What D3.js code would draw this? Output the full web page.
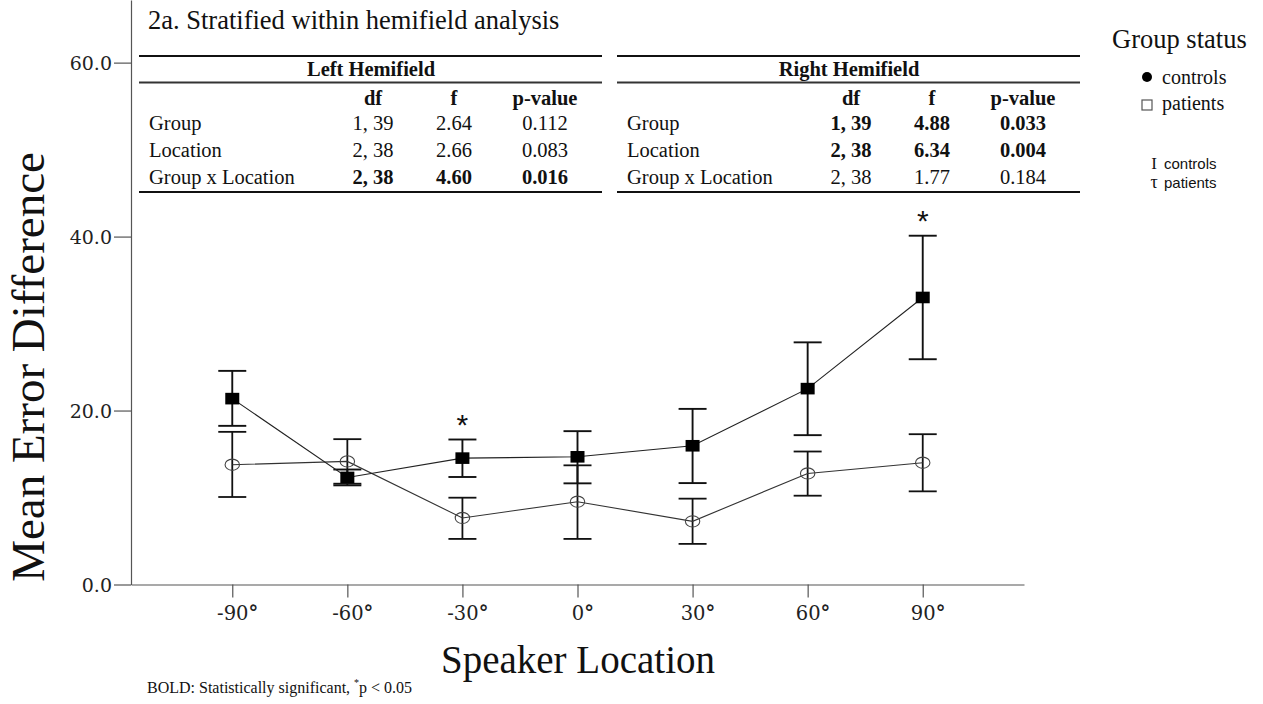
<!DOCTYPE html>
<html>
<head>
<meta charset="utf-8">
<script src="https://cdn.jsdelivr.net/npm/d3@7/dist/d3.min.js"></script>
<style>
  html, body { margin: 0; padding: 0; background: #fff; }
  svg { display: block; }
</style>
</head>
<body>
<script>
// Speaker locations (degrees) on the x axis
const locations = ["-90", "-60", "-30", "0", "30", "60", "90"];

// Mean error difference with 95% CI, controls (filled squares)
const controlsMean  = [21.37, 12.31, 14.53, 14.68, 15.95, 22.52, 33.0];
const controlsLower = [18.24, 11.40, 12.36, 11.63, 11.66, 17.17, 25.9];
const controlsUpper = [24.56, 13.22, 16.67, 17.63, 20.19, 27.84, 40.1];

// Mean error difference with 95% CI, patients (open circles)
const patientsMean  = [13.77, 14.15, 7.65, 9.52, 7.26, 12.77, 14.0];
const patientsLower = [10.06, 11.59, 5.24, 5.24, 4.67, 10.21, 10.71];
const patientsUpper = [17.55, 16.71, 9.98, 13.70, 9.87, 15.29, 17.28];

// Locations with a significant group difference (*p < 0.05)
const significant = [false, false, true, false, false, false, true];

// Y axis ticks
const yTicks = [0, 20, 40, 60];

// ANOVA tables
const tableColumns = ["df", "f", "p-value"];
const tableRows = ["Group", "Location", "Group x Location"];
const leftValues = [["1, 39", "2.64", "0.112"], ["2, 38", "2.66", "0.083"], ["2, 38", "4.60", "0.016"]];
const leftBold = [false, false, true];
const rightValues = [["1, 39", "4.88", "0.033"], ["2, 38", "6.34", "0.004"], ["2, 38", "1.77", "0.184"]];
const rightBold = [true, true, false];

const W = 1263, H = 704;
const serif = "'Liberation Serif', 'Times New Roman', serif";
const sans = "'Liberation Sans', Arial, sans-serif";
const tickFont = "'DejaVu Serif', serif";

const svg = d3.select("body").append("svg")
  .attr("width", W).attr("height", H)
  .style("background", "#fff");

const x = d3.scalePoint().domain(locations).range([131, 1024]).padding(0.88);
const y = d3.scaleLinear().domain([0, 67.2]).range([584.5, 0]);

// ---- axes ----
const yAxis = svg.append("g")
  .attr("transform", "translate(131,0)")
  .call(d3.axisLeft(y).tickValues(yTicks).tickSize(17).tickSizeOuter(0).tickPadding(2)
    .tickFormat(d3.format(".1f")));
yAxis.select(".domain").attr("stroke", "#555").attr("stroke-width", 1.2);
yAxis.selectAll(".tick line").attr("stroke", "#555").attr("stroke-width", 1.2);
yAxis.selectAll(".tick text")
  .attr("font-family", tickFont).attr("font-size", 19).attr("fill", "#222")
  .attr("dy", "0.36em");

const xAxis = svg.append("g")
  .attr("transform", "translate(0,584.5)")
  .call(d3.axisBottom(x).tickSize(13).tickSizeOuter(0).tickPadding(4).tickFormat(d => d));
xAxis.select(".domain").attr("stroke", "#555").attr("stroke-width", 1.2);
xAxis.selectAll(".tick line").attr("stroke", "#555").attr("stroke-width", 1.2);
xAxis.selectAll(".tick text").each(function (d) {
  const t = d3.select(this).text("");
  t.attr("font-family", tickFont).attr("font-size", 19.5).attr("fill", "#222")
    .attr("text-anchor", "start").attr("dy", "0.95em");
  t.append("tspan").text(d);
  t.append("tspan").attr("font-weight", "bold").text("°");
  const dw = t.select("tspan").node().getComputedTextLength();
  t.attr("x", -dw / 2);
});

// ---- axis titles ----
svg.append("text")
  .attr("transform", "translate(44,367) rotate(-90)")
  .attr("text-anchor", "middle")
  .attr("font-family", serif).attr("font-size", 47).attr("fill", "#111")
  .text("Mean Error Difference");

svg.append("text")
  .attr("x", 578).attr("y", 673)
  .attr("text-anchor", "middle")
  .attr("font-family", serif).attr("font-size", 39).attr("fill", "#111")
  .text("Speaker Location");

// footnote
const foot = svg.append("text")
  .attr("x", 147).attr("y", 693)
  .attr("font-family", serif).attr("font-size", 16).attr("fill", "#111");
foot.append("tspan").text("BOLD: Statistically significant, ");
foot.append("tspan").attr("font-size", 10).attr("dy", -7).text("*");
foot.append("tspan").attr("dy", 7).text("p < 0.05");

// title
svg.append("text")
  .attr("x", 148).attr("y", 29)
  .attr("font-family", serif).attr("font-size", 26.5).attr("fill", "#111")
  .text("2a. Stratified within hemifield analysis");

// ---- tables ----
function drawTable(x0, title, values, boldRows) {
  const g = svg.append("g").attr("transform", `translate(${x0},0)`);
  const tw = 463;
  g.append("line").attr("x1", 0).attr("x2", tw).attr("y1", 56).attr("y2", 56)
    .attr("stroke", "#111").attr("stroke-width", 2);
  g.append("line").attr("x1", 0).attr("x2", tw).attr("y1", 82.5).attr("y2", 82.5)
    .attr("stroke", "#333").attr("stroke-width", 1.8);
  g.append("line").attr("x1", 0).attr("x2", tw).attr("y1", 192).attr("y2", 192)
    .attr("stroke", "#111").attr("stroke-width", 2);
  g.append("text").attr("x", 232).attr("y", 76).attr("text-anchor", "middle")
    .attr("font-family", serif).attr("font-size", 20.5).attr("font-weight", "bold")
    .attr("fill", "#111").text(title);
  const colX = [234, 315, 406];
  tableColumns.forEach((c, i) => {
    g.append("text").attr("x", colX[i]).attr("y", 105).attr("text-anchor", "middle")
      .attr("font-family", serif).attr("font-size", 20.5).attr("font-weight", "bold")
      .attr("fill", "#111").text(c);
  });
  const rowY = [130, 157, 184];
  tableRows.forEach((r, j) => {
    g.append("text").attr("x", 10).attr("y", rowY[j])
      .attr("font-family", serif).attr("font-size", 20.5).attr("fill", "#111").text(r);
    values[j].forEach((v, i) => {
      g.append("text").attr("x", colX[i]).attr("y", rowY[j]).attr("text-anchor", "middle")
        .attr("font-family", serif).attr("font-size", 20.5)
        .attr("font-weight", boldRows[j] ? "bold" : "normal")
        .attr("fill", "#111").text(v);
    });
  });
}
drawTable(139, "Left Hemifield", leftValues, leftBold);
drawTable(617, "Right Hemifield", rightValues, rightBold);

// ---- data ----
const capHalf = 14;
function errorBars(lo, hi, sw) {
  const g = svg.append("g");
  locations.forEach((loc, i) => {
    const cx = x(loc);
    g.append("line").attr("x1", cx).attr("x2", cx).attr("y1", y(lo[i])).attr("y2", y(hi[i]))
      .attr("stroke", "#111").attr("stroke-width", sw);
    [lo[i], hi[i]].forEach(v => {
      g.append("line").attr("x1", cx - capHalf).attr("x2", cx + capHalf)
        .attr("y1", y(v)).attr("y2", y(v))
        .attr("stroke", "#111").attr("stroke-width", sw);
    });
  });
}
errorBars(patientsLower, patientsUpper, 1.8);
errorBars(controlsLower, controlsUpper, 1.9);

const line = d3.line().x((d, i) => x(locations[i])).y(d => y(d));
svg.append("path").datum(patientsMean).attr("d", line)
  .attr("fill", "none").attr("stroke", "#333").attr("stroke-width", 1.1);
svg.append("path").datum(controlsMean).attr("d", line)
  .attr("fill", "none").attr("stroke", "#222").attr("stroke-width", 1.1);

svg.append("g").selectAll("ellipse").data(patientsMean).join("ellipse")
  .attr("cx", (d, i) => x(locations[i])).attr("cy", d => y(d))
  .attr("rx", 7.2).attr("ry", 5.6)
  .attr("fill", "none").attr("stroke", "#444").attr("stroke-width", 1.1);

svg.append("g").selectAll("rect").data(controlsMean).join("rect")
  .attr("x", (d, i) => x(locations[i]) - 7).attr("y", d => y(d) - 5.8)
  .attr("width", 14).attr("height", 11.6)
  .attr("fill", "#000");

// significance markers above controls' upper CI
const sigIdx = locations.map((d, i) => i).filter(i => significant[i]);
svg.append("g").selectAll("text").data(sigIdx).join("text")
  .attr("x", i => x(locations[i])).attr("y", i => y(controlsUpper[i]) - 5)
  .attr("text-anchor", "middle")
  .attr("font-family", sans).attr("font-size", 30)
  .attr("fill", "#111").text("*");

// ---- legend ----
const leg = svg.append("g");
leg.append("text").attr("x", 1112).attr("y", 48)
  .attr("font-family", serif).attr("font-size", 26.5).attr("fill", "#111").text("Group status");
leg.append("circle").attr("cx", 1147).attr("cy", 77).attr("r", 5).attr("fill", "#000");
leg.append("text").attr("x", 1162).attr("y", 84)
  .attr("font-family", serif).attr("font-size", 20).attr("fill", "#111").text("controls");
leg.append("rect").attr("x", 1142).attr("y", 100).attr("width", 10).attr("height", 10)
  .attr("fill", "none").attr("stroke", "#555").attr("stroke-width", 1.2);
leg.append("text").attr("x", 1162).attr("y", 110)
  .attr("font-family", serif).attr("font-size", 20).attr("fill", "#111").text("patients");

leg.append("text").attr("x", 1154).attr("y", 169).attr("text-anchor", "middle")
  .attr("font-family", serif).attr("font-size", 17).attr("fill", "#111").text("I");
leg.append("text").attr("x", 1164).attr("y", 169)
  .attr("font-family", sans).attr("font-size", 15)
  .attr("fill", "#111").text("controls");
leg.append("text").attr("x", 1154).attr("y", 188).attr("text-anchor", "middle")
  .attr("font-family", serif).attr("font-size", 18).attr("fill", "#111").text("τ");
leg.append("text").attr("x", 1164).attr("y", 188)
  .attr("font-family", sans).attr("font-size", 15)
  .attr("fill", "#111").text("patients");
</script>
</body>
</html>
